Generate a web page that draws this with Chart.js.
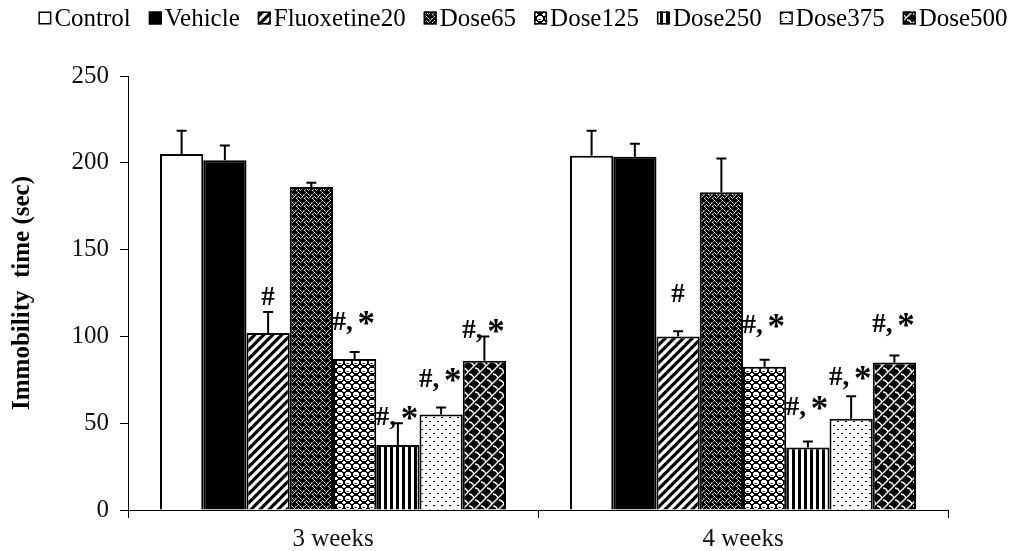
<!DOCTYPE html>
<html><head><meta charset="utf-8">
<script src="https://cdn.jsdelivr.net/npm/chart.js"></script>
<style>html,body{margin:0;padding:0;background:#fff;}canvas{display:block;}</style>
</head><body>
<canvas id="c" width="1016" height="551"></canvas>
<script>
// ---------- data ----------
const categories = ['3 weeks', '4 weeks'];
const seriesNames = ['Control', 'Vehicle', 'Fluoxetine20', 'Dose65', 'Dose125', 'Dose250', 'Dose375', 'Dose500'];
const controlValues    = [205, 204];
const vehicleValues    = [201.5, 203.5];
const fluoxetineValues = [102, 100];
const dose65Values     = [186, 183];
const dose125Values    = [87, 82.5];
const dose250Values    = [37.5, 36];
const dose375Values    = [55, 52.5];
const dose500Values    = [86, 85];
const controlErr    = [13.5, 14.5];
const vehicleErr    = [8.5, 7.5];
const fluoxetineErr = [12, 3];
const dose65Err     = [2.5, 19.5];
const dose125Err    = [4, 4];
const dose250Err    = [12.5, 3.5];
const dose375Err    = [4, 13];
const dose500Err    = [14, 4];
// significance marks and the axis value where each mark sits
const fluoxetineSig = ['#', '#'];
const doseSig       = ['#,*', '#,*'];
const fluoxetineSigAt = [123, 125];
const dose125SigAt  = [109, 107];
const dose250SigAt  = [54, 60];
const dose375SigAt  = [76, 77];
const dose500SigAt  = [104, 108];
const yTickValues = [0, 50, 100, 150, 200, 250];
const yTitle = 'Immobility  time (sec)';

const allValues = [controlValues, vehicleValues, fluoxetineValues, dose65Values, dose125Values, dose250Values, dose375Values, dose500Values];
const allErr = [controlErr, vehicleErr, fluoxetineErr, dose65Err, dose125Err, dose250Err, dose375Err, dose500Err];
const allSig = [null, null, fluoxetineSig, null, doseSig, doseSig, doseSig, doseSig];
const allSigAt = [null, null, fluoxetineSigAt, null, dose125SigAt, dose250SigAt, dose375SigAt, dose500SigAt];

// ---------- patterns ----------
const FONT = "'Liberation Serif', 'Times New Roman', serif";
function makePattern(w, h, fn) {
  const c = document.createElement('canvas'); c.width = w; c.height = h;
  const g = c.getContext('2d'); fn(g, w, h);
  return g.createPattern(c, 'repeat');
}
function pixelPattern(rows, colors, bg) {
  return makePattern(rows[0].length, rows.length, (g, w, h) => {
    g.fillStyle = bg; g.fillRect(0, 0, w, h);
    rows.forEach((r, y) => { for (let x = 0; x < r.length; x++) { const c = colors[r[x]]; if (c) { g.fillStyle = c; g.fillRect(x, y, 1, 1); } } });
  });
}
const patWhite = '#ffffff';
const patBlack = '#000000';
const patDiag = makePattern(9, 9, (g, w, h) => {
  g.fillStyle = '#000'; g.fillRect(0, 0, w, h);
  g.strokeStyle = '#fff'; g.lineWidth = 3.2;
  [[0, h, w, 0], [-w, h, w, -h], [0, 2 * h, 2 * w, 0]].forEach(l => { g.beginPath(); g.moveTo(l[0], l[1]); g.lineTo(l[2], l[3]); g.stroke(); });
});
const patWave = pixelPattern([
  "..w.....",
  ".g.g....",
  "g...w..g",
  ".....g.g",
  "..g...w.",
  ".g.w.g..",
  "w...g...",
  ".g......"
], { w: '#ffffff', g: '#a0a0a0' }, '#000');
const patChecker = pixelPattern([
  "..wwww..",
  ".wwwwww.",
  ".wwwwww.",
  ".wg.gww.",
  "..wwww..",
  "w......w",
  "ww....ww",
  "w......w"
], { w: '#ffffff', g: '#777' }, '#000');
const patVert = makePattern(6, 4, (g, w, h) => {
  g.fillStyle = '#fff'; g.fillRect(0, 0, w, h);
  g.fillStyle = '#000'; g.fillRect(0, 0, 3, h);
});
const patDots = pixelPattern([
  "........",
  ".##.....",
  "........",
  "........",
  "........",
  ".....##.",
  "........",
  "........"
], { '#': '#000' }, '#fff');
const patLattice = makePattern(12, 12, (g, w, h) => {
  g.fillStyle = '#000'; g.fillRect(0, 0, w, h);
  g.strokeStyle = '#fff'; g.lineWidth = 1.3;
  [[0, h, w, 0], [-w, h, w, -h], [0, 2 * h, 2 * w, 0]].forEach(l => { g.beginPath(); g.moveTo(l[0], l[1]); g.lineTo(l[2], l[3]); g.stroke(); });
  g.beginPath(); g.moveTo(1, 2); g.quadraticCurveTo(4, 2, 6, 6); g.stroke();
  g.beginPath(); g.moveTo(7, 8); g.quadraticCurveTo(10, 8, 12, 12); g.stroke();
});
const patterns = [patWhite, patBlack, patDiag, patWave, patChecker, patVert, patDots, patLattice];

const datasets = seriesNames.map((name, i) => ({
  label: name,
  data: allValues[i],
  errors: allErr[i],
  sig: allSig[i],
  sigAt: allSigAt[i],
  backgroundColor: patterns[i],
  borderColor: '#000',
  borderWidth: 2,
  barPercentage: 1,
  categoryPercentage: 0.844
}));

// ---------- plugins ----------
const errorBars = {
  id: 'errorBars',
  afterDatasetsDraw(chart) {
    const ctx = chart.ctx, y = chart.scales.y;
    ctx.save(); ctx.strokeStyle = '#000'; ctx.lineWidth = 2;
    chart.data.datasets.forEach((ds, di) => {
      const meta = chart.getDatasetMeta(di);
      meta.data.forEach((bar, j) => {
        const top = y.getPixelForValue(ds.data[j] + ds.errors[j]);
        ctx.beginPath();
        ctx.moveTo(bar.x, bar.y); ctx.lineTo(bar.x, top);
        ctx.moveTo(bar.x - 5, top); ctx.lineTo(bar.x + 5, top);
        ctx.stroke();
      });
    });
    ctx.restore();
  }
};
const sigMarks = {
  id: 'sigMarks',
  afterDatasetsDraw(chart) {
    const ctx = chart.ctx, y = chart.scales.y;
    ctx.save(); ctx.fillStyle = '#000'; ctx.textBaseline = 'alphabetic'; ctx.textAlign = 'left';
    const f1 = 'bold 27px ' + FONT, f2 = 'bold 35px ' + FONT;
    chart.data.datasets.forEach((ds, di) => {
      if (!ds.sig) return;
      const meta = chart.getDatasetMeta(di);
      meta.data.forEach((bar, j) => {
        const txt = ds.sig[j];
        const base = y.getPixelForValue(ds.sigAt[j]) + 9;
        const parts = txt.indexOf('*') >= 0 ? [txt.replace('*', ' '), '*'] : [txt];
        ctx.font = f1; const w1 = ctx.measureText(parts[0]).width;
        let w2 = 0; if (parts[1]) { ctx.font = f2; w2 = ctx.measureText(parts[1]).width; }
        const x0 = bar.x - (w1 + w2) / 2;
        ctx.font = f1; ctx.fillText(parts[0], x0, base);
        if (parts[1]) { ctx.font = f2; ctx.fillText(parts[1], x0 + w1 - 2, base + 5); }
      });
    });
    ctx.restore();
  }
};
const topLegend = {
  id: 'topLegend',
  afterDraw(chart) {
    const ctx = chart.ctx; ctx.save();
    ctx.font = '25px ' + FONT; ctx.textBaseline = 'middle'; ctx.textAlign = 'left';
    const box = 13, gap = 3, space = 18, cy = 18;
    const items = chart.data.datasets.map(ds => ({ ds, w: ctx.measureText(ds.label).width }));
    const total = items.reduce((s, it) => s + box + gap + it.w, 0) + space * (items.length - 1);
    let x = 523 - total / 2;
    items.forEach(it => {
      ctx.fillStyle = it.ds.backgroundColor; ctx.fillRect(x, cy - box / 2, box, box);
      ctx.strokeStyle = '#000'; ctx.lineWidth = 1.5; ctx.strokeRect(x + 0.75, cy - box / 2 + 0.75, box - 1.5, box - 1.5);
      ctx.fillStyle = '#000'; ctx.fillText(it.ds.label, x + box + gap, cy + 1);
      x += box + gap + it.w + space;
    });
    ctx.restore();
  }
};

new Chart(document.getElementById('c'), {
  type: 'bar',
  data: { labels: categories, datasets },
  options: {
    responsive: false, animation: false, devicePixelRatio: 1,
    layout: { padding: { top: 76, right: 68, left: 0, bottom: 0 } },
    plugins: { legend: { display: false }, tooltip: { enabled: false } },
    scales: {
      x: {
        grid: { offset: true, drawOnChartArea: false, drawTicks: true, tickLength: 8, color: '#000', lineWidth: 1 },
        border: { color: '#000', width: 1 },
        ticks: { color: '#111', font: { family: FONT, size: 25 }, padding: 6 },
        afterFit(s) { s.height = 41; }
      },
      y: {
        min: yTickValues[0], max: yTickValues[yTickValues.length - 1],
        afterBuildTicks(s) { s.ticks = yTickValues.map(v => ({ value: v })); },
        grid: { drawOnChartArea: false, drawTicks: true, tickLength: 8, color: '#000', lineWidth: 1 },
        border: { color: '#000', width: 1 },
        ticks: { color: '#111', font: { family: FONT, size: 25 }, padding: 11 },
        title: { display: true, text: yTitle, color: '#000', font: { family: FONT, size: 25, weight: 'bold' }, padding: { top: 8, bottom: 0 } },
        afterFit(s) { s.width = 128; }
      }
    }
  },
  plugins: [errorBars, sigMarks, topLegend]
});
</script>
</body></html>
